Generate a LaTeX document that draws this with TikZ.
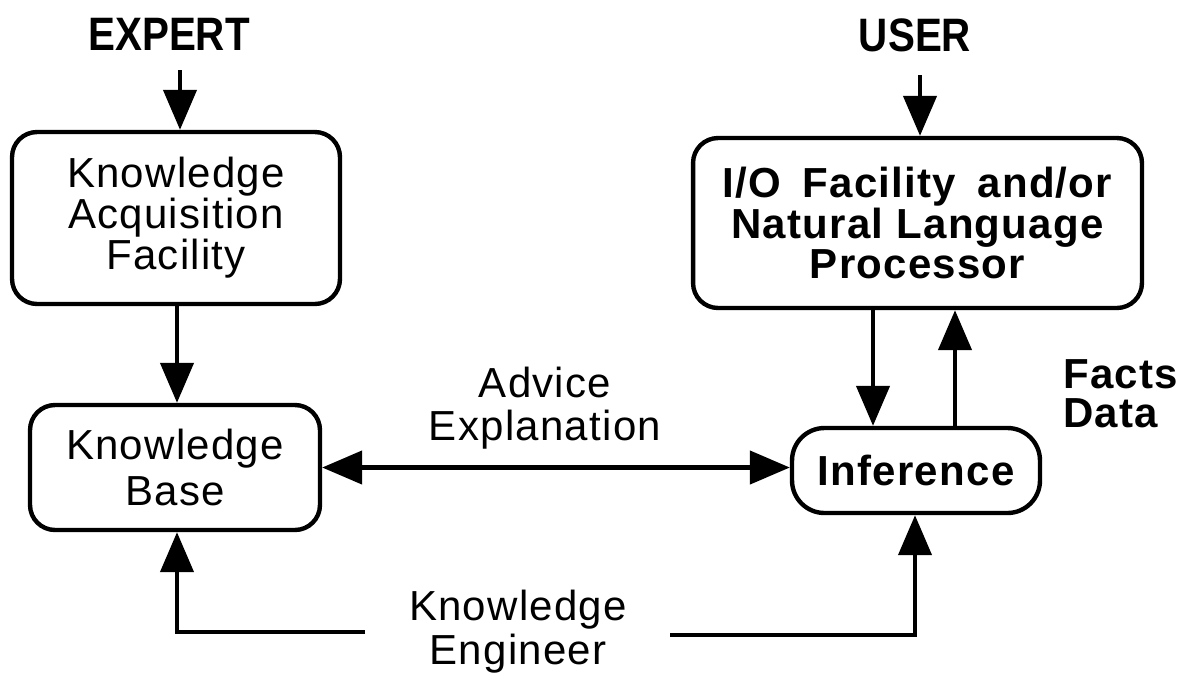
\documentclass[tikz,border=0pt]{standalone}
\usepackage{fontspec}
\setmainfont[LetterSpace=3]{Liberation Sans}
\newfontfamily\headfont[FakeStretch=0.86]{Liberation Sans}
\usetikzlibrary{arrows.meta}
\begin{document}
\begin{tikzpicture}[x=0.02cm,y=-0.02cm,
  box/.style={draw, line width=2.5pt, rounded corners=0.5cm, align=center, inner sep=0pt,
    font=\fontsize{23.9}{23.3}\selectfont},
  arr/.style={line width=2.5pt, -{Triangle[length=0.8cm,width=0.66cm]}},
  lbl/.style={align=center, inner sep=0pt, font=\fontsize{23.9}{24.5}\selectfont},
  head/.style={inner sep=0pt, font=\headfont\bfseries\fontsize{26.7}{28}\selectfont}]
\useasboundingbox (0,0) rectangle (1195,677);

% headings
\node[head] (expert) at (169,34) {EXPERT};
\node[head] (user) at (915,35) {USER};

% boxes
\node[box, minimum width=6.56cm, minimum height=3.44cm] (kaf) at (176,218)
  {Knowledge\\Acquisition\\Facility};
\node[box, minimum width=5.8cm, minimum height=2.5cm,
  font=\fontsize{23.9}{26.1}\selectfont] (kb) at (175,467.5) {Knowledge\\Base};
\node[box, minimum width=8.98cm, minimum height=3.4cm,
  font=\bfseries\fontsize{23.9}{23.3}\selectfont] (io) at (917.5,223)
  {I/O\hspace{0.2em} Facility\hspace{0.2em} and/or\\Natural Language\\Processor};
\node[box, minimum width=4.96cm, minimum height=1.7cm, rounded corners=0.65cm,
  font=\bfseries\fontsize{23.9}{23.3}\selectfont] (inf) at (916,470.5) {Inference};

% labels
\node[lbl] (adv) at (545,408) {Advice\\Explanation};
\node[lbl, font=\fontsize{23.9}{25}\selectfont] (ke) at (518,632) {Knowledge\\Engineer};
\node[lbl, align=left, anchor=west, font=\bfseries\fontsize{23.9}{22}\selectfont] (fd) at (1063,394) {Facts\\Data};

% helper coordinates
\coordinate (e1) at (180,70);
\coordinate (u1) at (920,75);
\coordinate (xk) at (177,0);
\coordinate (xd) at (873,0);
\coordinate (xu) at (955,0);
\coordinate (xi) at (915,0);
\coordinate (kl) at (365,632);
\coordinate (kr) at (670,635);

% connectors
\draw[arr] (e1) -- (e1 |- kaf.north);
\draw[arr] (u1) -- (u1 |- io.north);
\draw[arr] (xk |- kaf.south) -- (xk |- kb.north);
\draw[line width=2.5pt, {Triangle[length=0.8cm,width=0.66cm]}-{Triangle[length=0.8cm,width=0.66cm]}]
  (kb.east) -- (kb.east -| inf.west);
\draw[arr] (xd |- io.south) -- (xd |- inf.north);
\draw[arr] (xu |- inf.north) -- (xu |- io.south);
\draw[arr] (kl) -- (kl -| xk) -- (xk |- kb.south);
\draw[arr] (kr) -- (kr -| xi) -- (xi |- inf.south);
\end{tikzpicture}
\end{document}
